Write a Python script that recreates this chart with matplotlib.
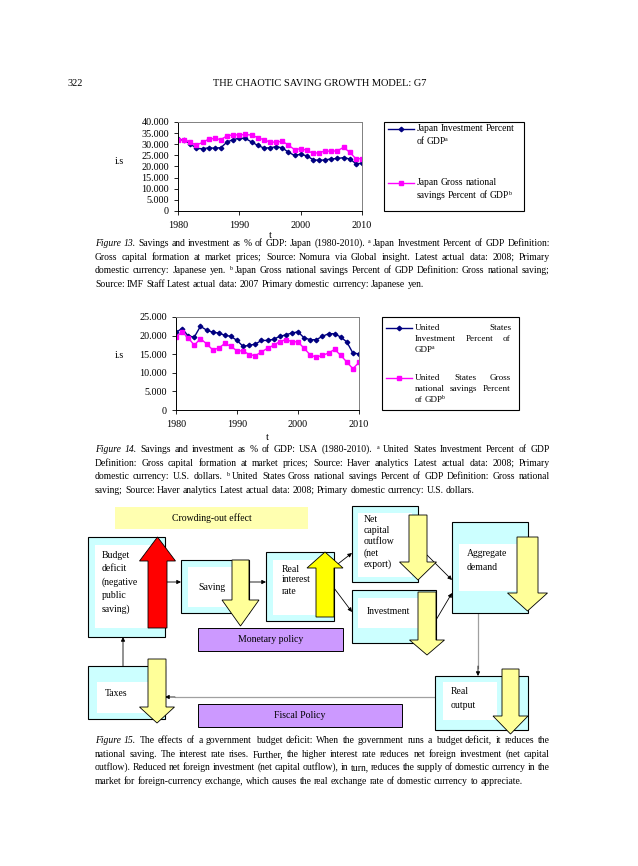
import matplotlib
matplotlib.use("Agg")
import matplotlib.pyplot as plt
from matplotlib.patches import Rectangle, Polygon
from matplotlib.ticker import FuncFormatter

plt.rcParams['font.family'] = 'Liberation Serif'

# ---- data read from the page ----
years = list(range(1980, 2011))

jp_inv = [32.4, 31.7, 30.2, 28.1, 28.0, 28.4, 28.2, 28.5, 31.0, 32.1,
          32.7, 32.6, 31.0, 29.5, 28.3, 28.4, 28.9, 28.4, 26.4, 25.0,
          25.5, 24.8, 23.1, 22.7, 23.0, 23.4, 23.6, 24.0, 23.4, 21.3, 21.4]
jp_sav = [31.8, 32.0, 30.8, 29.7, 30.8, 32.3, 32.6, 32.1, 33.8, 34.2,
          34.2, 34.4, 34.1, 33.0, 32.0, 31.0, 30.9, 31.4, 29.6, 27.6,
          28.0, 27.3, 25.9, 26.2, 27.0, 26.8, 27.1, 28.6, 26.4, 23.5, 23.5]

us_inv = [20.9, 21.9, 19.9, 19.6, 22.5, 21.5, 20.9, 20.7, 20.1, 19.8,
          18.7, 17.1, 17.4, 17.7, 18.7, 18.7, 19.0, 19.8, 20.2, 20.7,
          21.0, 19.4, 18.9, 18.9, 19.8, 20.5, 20.5, 19.6, 18.3, 15.3, 15.1]
us_sav = [19.6, 21.0, 19.4, 17.4, 19.2, 17.8, 16.2, 16.6, 17.9, 17.1,
          15.9, 15.9, 14.9, 14.6, 15.6, 16.6, 17.4, 18.4, 18.9, 18.4,
          18.3, 16.6, 14.8, 14.2, 14.7, 15.3, 16.3, 14.7, 12.9, 11.1, 12.8]

x_ticks = [1980, 1990, 2000, 2010]
jp_yticks = [0, 5, 10, 15, 20, 25, 30, 35, 40]
us_yticks = [0, 5, 10, 15, 20, 25]

# "^a" marks a superscript letter
jp_legend = [["Japan Investment Percent", "of GDP^a"],
             ["Japan Gross national", "savings Percent of GDP^b"]]
us_legend = [["United States", "Investment Percent of", "GDP^a"],
             ["United States Gross", "national savings Percent", "of GDP^b"]]

cap13 = ["Figure 13. Savings and investment as % of GDP: Japan (1980-2010). ^a Japan Investment Percent of GDP Definition:",
         "Gross capital formation at market prices; Source: Nomura via Global insight. Latest actual data: 2008; Primary",
         "domestic currency: Japanese yen. ^b Japan Gross national savings Percent of GDP Definition: Gross national saving;",
         "Source: IMF Staff Latest actual data: 2007 Primary domestic currency: Japanese yen."]
cap14 = ["Figure 14. Savings and investment as % of GDP: USA (1980-2010). ^a United States Investment Percent of GDP",
         "Definition: Gross capital formation at market prices; Source: Haver analytics Latest actual data: 2008; Primary",
         "domestic currency: U.S. dollars. ^b United States Gross national savings Percent of GDP Definition: Gross national",
         "saving; Source: Haver analytics Latest actual data: 2008; Primary domestic currency: U.S. dollars."]
cap15 = ["Figure 15. The effects of a government budget deficit: When the government runs a budget deficit, it reduces the",
         "national saving. The interest rate rises. Further, the higher interest rate reduces net foreign investment (net capital",
         "outflow). Reduced net foreign investment (net capital outflow), in turn, reduces the supply of domestic currency in the",
         "market for foreign-currency exchange, which causes the real exchange rate of domestic currency to appreciate."]

W, H = 638, 866
fig = plt.figure(figsize=(W / 100, H / 100), dpi=100)
page = fig.add_axes([0, 0, 1, 1])
page.set_xlim(0, W)
page.set_ylim(H, 0)
page.axis('off')
renderer = fig.canvas.get_renderer()

CAP = 6.9


def put_line(x0, x1, y, line, size=CAP, justify=True, italic_n=0):
    # y is the visual middle of the line; words share one whole-pixel baseline
    base = round(y + size * 0.33)
    groups = []
    for i, word in enumerate(line.split()):
        style = 'italic' if i < italic_n else 'normal'
        main, _, sup = word.partition('^')
        parts = []
        if main:
            parts.append(page.text(0, base, main, fontsize=size, va='baseline', style=style))
        if sup:
            parts.append(page.text(0, base - size * 0.5, sup, fontsize=size * 0.62,
                                   va='baseline'))
        groups.append(parts)
    widths = [[p.get_window_extent(renderer).width for p in g] for g in groups]
    total = sum(sum(w) for w in widths)
    gap = size * 0.25 * 100 / 72
    if justify and len(groups) > 1:
        gap = (x1 - x0 - total) / (len(groups) - 1)
    x = x0
    for g, ws in zip(groups, widths):
        for k, (p, w) in enumerate(zip(g, ws)):
            if k > 0:
                x -= 1.2  # tuck the superscript against its word
            p.set_x(round(x))
            x += w
        x += gap


def caption(lines, y0, dy=13.6):
    for i, ln in enumerate(lines):
        last = i == len(lines) - 1
        put_line(95, 550, y0 + i * dy, ln, justify=not last, italic_n=2 if i == 0 else 0)


def to_fig(left, top, right, bottom):
    return [left / W, 1 - bottom / H, (right - left) / W, (bottom - top) / H]


def chart(rect, inv, sav, yticks, ylim):
    ax = fig.add_axes(to_fig(*rect))
    ax.plot(years, inv, color='#000080', lw=1.0, marker='D', ms=2.3)
    ax.plot(years, sav, color='#ff00ff', lw=1.0, marker='s', ms=3.0)
    ax.set_xlim(1980, 2010)
    ax.set_ylim(0, ylim)
    ax.set_xticks(x_ticks)
    ax.set_yticks(yticks)
    ax.yaxis.set_major_formatter(FuncFormatter(lambda v, p: '0' if v == 0 else f'{v:.3f}'))
    ax.tick_params(direction='out', length=3, width=0.6, labelsize=7.3, pad=3.5)
    ax.tick_params(axis='x', pad=4)
    for s in ['left', 'bottom']:
        ax.spines[s].set_color('black')
        ax.spines[s].set_linewidth(0.7)
    for s in ['top', 'right']:
        ax.spines[s].set_color('#808080')
        ax.spines[s].set_linewidth(0.7)
    ax.patch.set_alpha(0)
    return ax


def legend_box(left, top, right, bottom, entries, line_y, dy, justify, size):
    page.add_patch(Rectangle((left, top), right - left, bottom - top,
                             fill=False, ec='black', lw=0.8))
    styles = [('#000080', 'D', 2.3), ('#ff00ff', 's', 3.0)]
    for (col, mk, ms), ly, lines in zip(styles, line_y, entries):
        page.plot([left + 4, left + 30], [ly, ly], color=col, lw=1.0)
        page.plot([left + 17], [ly], color=col, marker=mk, ms=ms)
        for j, ln in enumerate(lines):
            last = j == len(lines) - 1
            put_line(left + 33, right - 8, ly + j * dy, ln, size=size,
                     justify=justify and not last)


# header
page.text(67, 83, "322", fontsize=7.5, va='center')
page.text(213, 83, "THE CHAOTIC SAVING GROWTH MODEL: G7", fontsize=7.5, va='center')

# figure 13
chart((178, 122, 362, 211), jp_inv, jp_sav, jp_yticks, 40)
page.text(119, 162, "i.s", fontsize=7.3, ha='center', va='center')
page.text(270, 236, "t", fontsize=7.3, ha='center', va='center')
legend_box(384, 122, 524, 211, jp_legend, [129, 183], 13, False, 6.9)
caption(cap13, 244)

# figure 14
chart((176, 317, 359, 410), us_inv, us_sav, us_yticks, 25)
page.text(119, 355, "i.s", fontsize=7.3, ha='center', va='center')
page.text(267, 437, "t", fontsize=7.3, ha='center', va='center')
legend_box(382, 317, 519, 410, us_legend, [328, 378], 10.7, True, 6.6)
caption(cap14, 450)

# figure 15 diagram
CYAN = '#ccffff'
PALE = '#ffff99'
PURPLE = '#cc99ff'


def box(outer, inner):
    l, t, r, b = outer
    page.add_patch(Rectangle((l, t), r - l, b - t, fc=CYAN, ec='black', lw=0.8, zorder=2))
    l, t, r, b = inner
    page.add_patch(Rectangle((l, t), r - l, b - t, fc='white', ec='none', zorder=2.1))


def label_box(rect, text, color):
    l, t, r, b = rect
    page.add_patch(Rectangle((l, t), r - l, b - t, fc=color,
                             ec='black' if color == PURPLE else 'none', lw=0.7, zorder=2))
    page.text((l + r) / 2, (t + b) / 2, text, fontsize=7, ha='center', va='center', zorder=3)


def block_arrow(cx, shaft_w, head_w, y_tail, y_base, y_tip, color):
    pts = [(cx - shaft_w / 2, y_tail), (cx - shaft_w / 2, y_base), (cx - head_w / 2, y_base),
           (cx, y_tip), (cx + head_w / 2, y_base), (cx + shaft_w / 2, y_base),
           (cx + shaft_w / 2, y_tail)]
    page.add_patch(Polygon(pts, closed=True, fc=color, ec='black', lw=0.6, zorder=4))


def words(x, y0, dy, lines):
    for i, ln in enumerate(lines):
        page.text(x, y0 + i * dy, ln, fontsize=7, va='center', zorder=3)


def link(p0, p1, color='black'):
    page.annotate('', xy=p1, xytext=p0, zorder=1.5,
                  arrowprops=dict(arrowstyle='-|>', color=color, lw=0.6,
                                  mutation_scale=6, shrinkA=0, shrinkB=0))


label_box((115, 507, 308, 529), "Crowding-out effect", '#ffffb0')
label_box((198, 628, 343, 651), "Monetary policy", PURPLE)
label_box((198, 704, 402, 727), "Fiscal Policy", PURPLE)

box((88, 537, 165, 637), (95, 545, 155, 628))
words(102, 555, 13.6, ["Budget", "deficit", "(negative", "public", "saving)"])
box((181, 560, 249, 613), (188, 567, 242, 607))
words(198, 588, 0, ["Saving"])
box((266, 552, 334, 621), (273, 560, 320, 615))
words(282, 569, 11, ["Real", "interest", "rate"])
box((352, 506, 418, 582), (358, 513, 412, 577))
words(364, 519, 11.3, ["Net", "capital", "outflow", "(net", "export)"])
box((352, 590, 436, 643), (358, 598, 420, 628))
words(367, 611, 0, ["Investment"])
box((452, 522, 528, 613), (459, 544, 517, 591))
words(467, 554, 14, ["Aggregate", "demand"])
box((88, 666, 165, 719), (97, 682, 150, 713))
words(105, 694, 0, ["Taxes"])
box((435, 676, 528, 730), (443, 682, 497, 720))
words(451, 692, 14, ["Real", "output"])

link((165, 582), (181, 582))
link((249, 582), (266, 582))
link((334, 567), (352, 553))
link((334, 588), (352, 612))
link((427, 555), (452, 580))
link((436, 620), (452, 593))
link((123, 666), (123, 637))
page.plot([478, 478], [613, 668], color='#a0a0a0', lw=0.9, zorder=1.5)
link((478, 666), (478, 676))
page.plot([435, 175], [697, 697], color='#a0a0a0', lw=0.9, zorder=1.5)
link((175, 697), (165, 697))

block_arrow(157.5, 19, 36, 628, 561, 537, '#ff0000')
block_arrow(240.5, 17, 37, 560, 600, 626, PALE)
block_arrow(325, 18, 36, 617, 568, 552, '#ffff00')
block_arrow(418, 18, 37, 515, 562, 580, PALE)
block_arrow(427, 18, 35, 592, 640, 655, PALE)
block_arrow(527.5, 21, 40, 537, 593, 611, PALE)
block_arrow(157, 18, 35, 659, 707, 723, PALE)
block_arrow(510.5, 17, 35, 669, 716, 734, PALE)

caption(cap15, 741)

fig.savefig('out.png', dpi=100)
